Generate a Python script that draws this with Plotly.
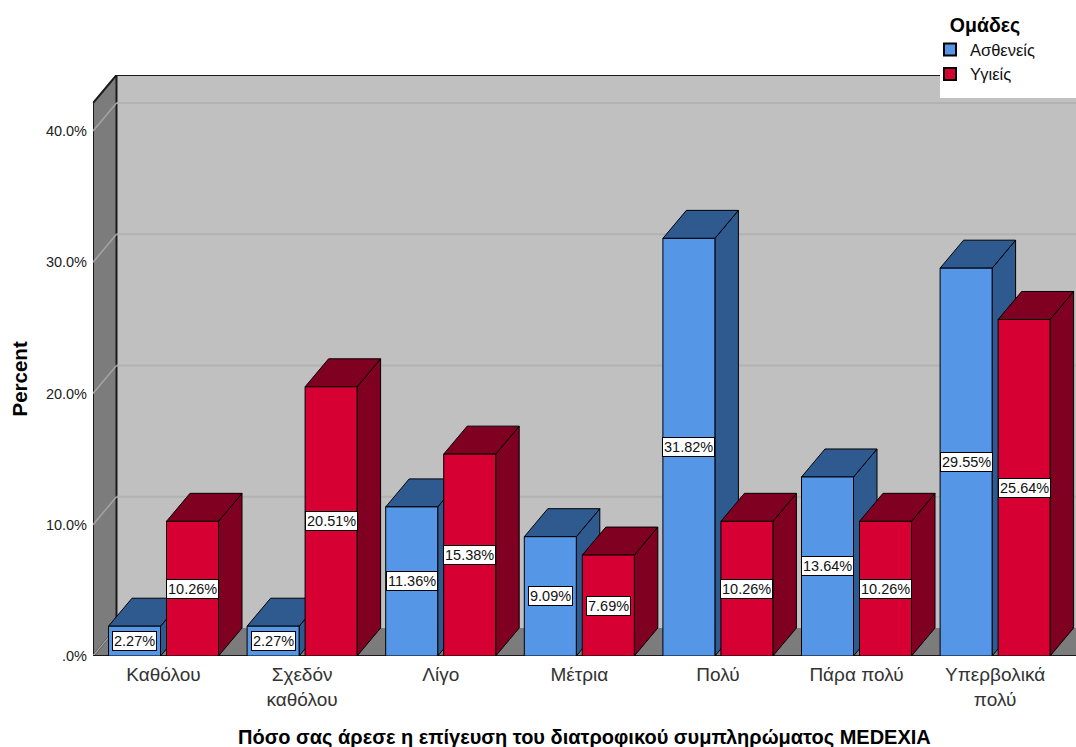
import plotly.graph_objects as go

# ---- data -------------------------------------------------------------
categories = ["Καθόλου", "Σχεδόν<br>καθόλου", "Λίγο", "Μέτρια", "Πολύ",
              "Πάρα πολύ", "Υπερβολικά<br>πολύ"]
series_names = ["Ασθενείς", "Υγιείς"]
patients = [2.27, 2.27, 11.36, 9.09, 31.82, 13.64, 29.55]
healthy = [10.26, 20.51, 15.38, 7.69, 10.26, 10.26, 25.64]
y_ticks = [0, 10, 20, 30, 40]
y_tick_text = [".0%", "10.0%", "20.0%", "30.0%", "40.0%"]

# ---- geometry (pixels -> axis units) ----------------------------------
W, H = 1076, 747
PLOT_L, PLOT_R, PLOT_T, PLOT_B = 93, 1076, 75, 656
PX_PER_PCT = (656 - 131) / 40.0
PX_PER_CAT = 138.6
CAT0_PX = 163.5
X_MIN = (PLOT_L - CAT0_PX) / PX_PER_CAT
X_MAX = (PLOT_R - CAT0_PX) / PX_PER_CAT
Y_MAX = (PLOT_B - PLOT_T) / PX_PER_PCT
DX = 23.5 / PX_PER_CAT          # depth shift, horizontal
DY = 28.0 / PX_PER_PCT          # depth shift, vertical
BAR_W = 52.0 / PX_PER_CAT
GAP = 6.0 / PX_PER_CAT

FRONT = ["#5596e6", "#d60032"]
SHADE = ["#2f5a8f", "#800022"]
WALL_BACK = "#c0c0c0"
WALL_SIDE = "#7c7c7c"
FONT = "Liberation Sans, Arial, sans-serif"


def path(points):
    return "M " + " L ".join(f"{x:.5f},{y:.5f}" for x, y in points) + " Z"


def px_to_paper_y(py):
    return (PLOT_B - py) / (PLOT_B - PLOT_T)


def px_to_paper_x(px):
    return (px - PLOT_L) / (PLOT_R - PLOT_L)


shapes = []
# back wall
shapes.append(dict(type="path", xref="x", yref="y", layer="below",
                   path=path([(X_MIN + DX, DY), (X_MIN + DX, Y_MAX), (X_MAX, Y_MAX), (X_MAX, DY)]),
                   fillcolor=WALL_BACK, line=dict(width=0)))
# floor
shapes.append(dict(type="path", xref="x", yref="y", layer="below",
                   path=path([(X_MIN, 0), (X_MIN + DX, DY), (X_MAX, DY), (X_MAX, 0)]),
                   fillcolor=WALL_SIDE, line=dict(width=0)))
# left wall
shapes.append(dict(type="path", xref="x", yref="y", layer="below",
                   path=path([(X_MIN, 0), (X_MIN, Y_MAX - DY), (X_MIN + DX, Y_MAX), (X_MIN + DX, DY)]),
                   fillcolor=WALL_SIDE, line=dict(color="#1a1a1a", width=2)))
# gridlines on the walls
for v in y_ticks:
    shapes.append(dict(type="line", xref="x", yref="y", layer="below",
                       x0=X_MIN, y0=v, x1=X_MIN + DX, y1=v + DY,
                       line=dict(color="#a4a4a4", width=1.5)))
    if v > 0:
        shapes.append(dict(type="line", xref="x", yref="y", layer="below",
                           x0=X_MIN + DX, y0=v + DY, x1=X_MAX, y1=v + DY,
                           line=dict(color="#b2b2b2", width=2)))
# top edge of back wall and front edge of floor
shapes.append(dict(type="line", xref="x", yref="y", layer="below",
                   x0=X_MIN + DX, y0=Y_MAX, x1=X_MAX, y1=Y_MAX,
                   line=dict(color="#1a1a1a", width=2)))
shapes.append(dict(type="line", xref="x", yref="y", layer="below",
                   x0=X_MIN, y0=0, x1=X_MAX, y1=0,
                   line=dict(color="#1a1a1a", width=2)))

# tops and sides of the bars, left to right
offsets = [-(BAR_W + GAP / 2), GAP / 2]
values = [patients, healthy]
for i in range(len(categories)):
    for s in range(2):
        v = values[s][i]
        x0 = i + offsets[s]
        x1 = x0 + BAR_W
        shapes.append(dict(type="path", xref="x", yref="y", layer="below",
                           path=path([(x1, 0), (x1, v), (x1 + DX, v + DY), (x1 + DX, DY)]),
                           fillcolor=SHADE[s], line=dict(color="black", width=1)))
        shapes.append(dict(type="path", xref="x", yref="y", layer="below",
                           path=path([(x0, v), (x0 + DX, v + DY), (x1 + DX, v + DY), (x1, v)]),
                           fillcolor=SHADE[s], line=dict(color="black", width=1)))

# white panel behind the legend
shapes.append(dict(type="rect", xref="paper", yref="paper", layer="above",
                   x0=px_to_paper_x(940), x1=1.0,
                   y0=px_to_paper_y(98), y1=px_to_paper_y(0),
                   fillcolor="white", line=dict(width=0)))

fig = go.Figure()
xs = list(range(len(categories)))
for s in range(2):
    fig.add_trace(go.Bar(
        x=xs, y=values[s], name=series_names[s],
        width=BAR_W, offset=offsets[s],
        marker=dict(color=FRONT[s], line=dict(color="black", width=1)),
        hoverinfo="skip",
    ))

annotations = []
for s in range(2):
    for i, v in enumerate(values[s]):
        annotations.append(dict(
            x=i + offsets[s] + BAR_W / 2, y=v / 2, xref="x", yref="y",
            text=f"{v:.2f}%", showarrow=False,
            font=dict(family=FONT, size=14.5, color="#111"),
            bgcolor="white", bordercolor="black", borderwidth=1, borderpad=1,
        ))

annotations.append(dict(
    x=px_to_paper_x(18.5), y=px_to_paper_y(379), xref="paper", yref="paper",
    xanchor="center", yanchor="middle",
    text="Percent", textangle=-90, showarrow=False,
    font=dict(family=FONT, size=20.5, color="black", weight="bold"),
))
annotations.append(dict(
    x=px_to_paper_x(584), y=px_to_paper_y(737), xref="paper", yref="paper",
    xanchor="center", yanchor="middle",
    text="Πόσο σας άρεσε η επίγευση του διατροφικού συμπληρώματος MEDEXIA",
    showarrow=False,
    font=dict(family=FONT, size=20, color="black", weight="bold"),
))

fig.update_layout(
    width=W, height=H,
    margin=dict(l=PLOT_L, r=W - PLOT_R, t=PLOT_T, b=H - PLOT_B, pad=0),
    paper_bgcolor="white", plot_bgcolor="white",
    barmode="overlay",
    shapes=shapes,
    annotations=annotations,
    showlegend=True,
    legend=dict(
        x=px_to_paper_x(930), y=px_to_paper_y(7), xanchor="left", yanchor="top",
        bgcolor="rgba(0,0,0,0)",
        title=dict(text="Ομάδες", side="top center",
                   font=dict(family=FONT, size=19.5, color="black", weight="bold")),
        font=dict(family=FONT, size=16.5, color="#111"),
        tracegroupgap=0, itemsizing="constant",
    ),
    xaxis=dict(
        range=[X_MIN, X_MAX], tickvals=xs, ticktext=categories,
        showgrid=False, zeroline=False, showline=False, ticks="",
        tickfont=dict(family=FONT, size=19, color="#333"),
        ticklabelstandoff=5,
        fixedrange=True,
    ),
    yaxis=dict(
        range=[0, Y_MAX], tickvals=y_ticks, ticktext=y_tick_text,
        showgrid=False, zeroline=False, showline=False, ticks="",
        tickfont=dict(family=FONT, size=14.5, color="#222"),
        ticklabelstandoff=5,
        fixedrange=True,
    ),
)

fig.write_html("out.html")
